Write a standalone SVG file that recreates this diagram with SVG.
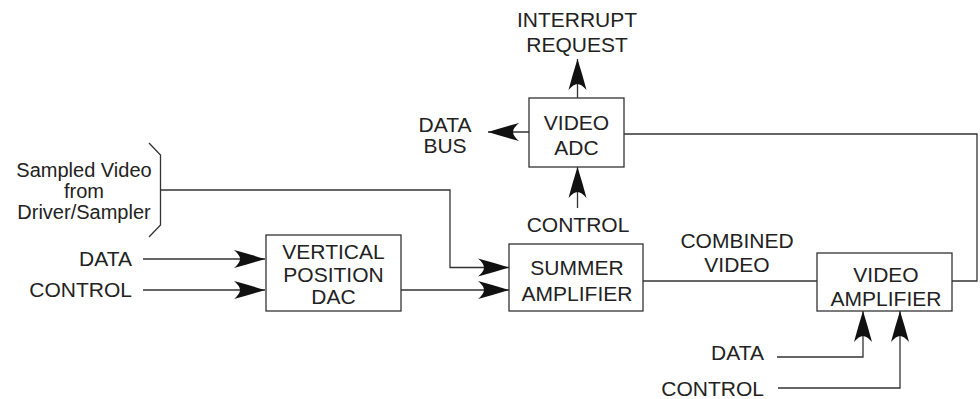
<svg xmlns="http://www.w3.org/2000/svg" width="980" height="399" viewBox="0 0 980 399">
<style>
.box{fill:#fff;stroke:#333;stroke-width:1.3}
.ln{fill:none;stroke:#333;stroke-width:1.3}
text{font-family:"Liberation Sans",Arial,sans-serif;font-size:21px;fill:#222}
.m{text-anchor:middle}
.e{text-anchor:end}
.s{font-size:20px}
</style>
<defs>
<marker id="ah" markerUnits="userSpaceOnUse" viewBox="-31 -10 32 20" refX="0" refY="0" markerWidth="32" markerHeight="20" orient="auto">
<path d="M0,0 Q-16,-5 -31,-9 Q-25,-4 -25,0 Q-25,4 -31,9 Q-16,5 0,0 Z" fill="#111"/>
</marker>
</defs>
<rect width="980" height="399" fill="#fff"/>
<g id="connectors">
<path class="ln" d="M577.5,98 V59" marker-end="url(#ah)"/>
<path class="ln" d="M529,132 H488" marker-end="url(#ah)"/>
<path class="ln" d="M577.5,208 V167" marker-end="url(#ah)"/>
<path class="ln" d="M149,143 L160.5,155 V225 L149,237"/>
<path class="ln" d="M160.5,190 H450 V267.5 H509" marker-end="url(#ah)"/>
<path class="ln" d="M143,259 H265" marker-end="url(#ah)"/>
<path class="ln" d="M143,290 H265" marker-end="url(#ah)"/>
<path class="ln" d="M401,290 H509" marker-end="url(#ah)"/>
<path class="ln" d="M643,281 H817"/>
<path class="ln" d="M952,281 H977 V134 H624"/>
<path class="ln" d="M777,357 H863 V311" marker-end="url(#ah)"/>
<path class="ln" d="M778,388 H900 V311" marker-end="url(#ah)"/>
</g>
<g id="video-adc">
<rect class="box" x="529" y="98" width="95" height="69"/>
<text class="m" x="576.5" y="130">VIDEO</text>
<text class="m" x="576.5" y="155">ADC</text>
</g>
<g id="vertical-dac">
<rect class="box" x="266" y="235" width="135" height="76"/>
<text class="m" x="333.5" y="259">VERTICAL</text>
<text class="m" x="333.5" y="282">POSITION</text>
<text class="m" x="333.5" y="304">DAC</text>
</g>
<g id="summer">
<rect class="box" x="509" y="244" width="134" height="67"/>
<text class="m" x="577" y="275">SUMMER</text>
<text class="m" x="577" y="301">AMPLIFIER</text>
</g>
<g id="video-amp">
<rect class="box" x="817" y="253" width="135" height="58"/>
<text class="m" x="886" y="282">VIDEO</text>
<text class="m" x="886" y="306">AMPLIFIER</text>
</g>
<g id="labels">
<text class="m" x="577" y="27">INTERRUPT</text>
<text class="m" x="577" y="52">REQUEST</text>
<text class="m" x="445" y="132">DATA</text>
<text class="m" x="445" y="153">BUS</text>
<text class="m" x="578" y="232">CONTROL</text>
<text class="m s" x="84" y="177">Sampled Video</text>
<text class="m s" x="84" y="198">from</text>
<text class="m s" x="84" y="219">Driver/Sampler</text>
<text class="e" x="132" y="266">DATA</text>
<text class="e" x="132" y="297">CONTROL</text>
<text class="m" x="737" y="248">COMBINED</text>
<text class="m" x="737" y="272">VIDEO</text>
<text class="e" x="764" y="360">DATA</text>
<text class="e" x="764" y="396">CONTROL</text>
</g>
</svg>
